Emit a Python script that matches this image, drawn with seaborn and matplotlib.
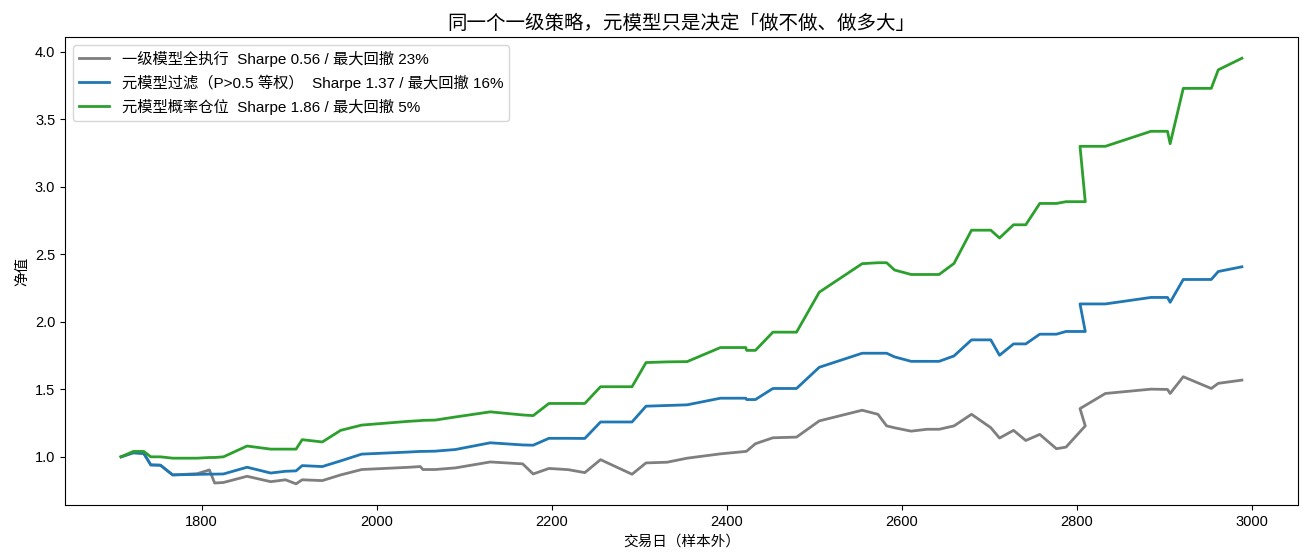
import matplotlib
matplotlib.use("Agg")
import matplotlib.pyplot as plt
import seaborn as sns
import pandas as pd

plt.rcParams['font.family'] = ['Liberation Sans', 'Noto Sans CJK SC', 'DejaVu Sans']
plt.rcParams['axes.unicode_minus'] = False
plt.rcParams['font.size'] = 10.5

# trade days (out of sample), in drawing order
days = [1708, 1722, 1734, 1742, 1753, 1767, 1795, 1809, 1815, 1825,
        1852, 1879, 1896, 1908, 1915, 1938, 1959, 1983, 2035, 2050,
        2053, 2067, 2090, 2130, 2167, 2179, 2197, 2219, 2238, 2256,
        2292, 2308, 2332, 2355, 2393, 2422, 2423, 2433, 2453, 2480,
        2506, 2555, 2573, 2583, 2592, 2611, 2629, 2643, 2660, 2680,
        2702, 2712, 2728, 2742, 2758, 2777, 2788, 2810, 2804, 2833,
        2885, 2904, 2907, 2922, 2954, 2962, 2989]

nav_all = [1.00, 1.03, 1.025, 0.94, 0.938, 0.866, 0.875, 0.903, 0.806, 0.81,
           0.856, 0.816, 0.83, 0.80, 0.83, 0.824, 0.866, 0.906, 0.922, 0.928,
           0.906, 0.906, 0.918, 0.962, 0.948, 0.873, 0.914, 0.905, 0.883, 0.979,
           0.871, 0.955, 0.96, 0.99, 1.022, 1.04, 1.042, 1.097, 1.141, 1.146,
           1.266, 1.345, 1.315, 1.229, 1.215, 1.19, 1.204, 1.204, 1.229, 1.315,
           1.216, 1.139, 1.196, 1.121, 1.166, 1.06, 1.072, 1.229, 1.357, 1.469,
           1.501, 1.499, 1.469, 1.593, 1.506, 1.544, 1.568]

nav_filter = [1.00, 1.03, 1.025, 0.94, 0.938, 0.866, 0.87, 0.872, 0.872, 0.873,
              0.923, 0.88, 0.893, 0.896, 0.935, 0.928, 0.97, 1.02, 1.035, 1.04,
              1.04, 1.042, 1.054, 1.104, 1.088, 1.086, 1.137, 1.137, 1.136, 1.258,
              1.258, 1.375, 1.38, 1.385, 1.434, 1.434, 1.424, 1.424, 1.506, 1.506,
              1.663, 1.767, 1.767, 1.767, 1.74, 1.707, 1.707, 1.707, 1.747, 1.866,
              1.866, 1.752, 1.836, 1.836, 1.908, 1.908, 1.928, 1.928, 2.132, 2.132,
              2.18, 2.18, 2.144, 2.313, 2.313, 2.372, 2.407]

nav_prob = [1.00, 1.04, 1.04, 1.00, 1.00, 0.99, 0.99, 0.995, 0.995, 1.00,
            1.08, 1.057, 1.057, 1.057, 1.127, 1.11, 1.196, 1.235, 1.262, 1.268,
            1.27, 1.272, 1.295, 1.333, 1.31, 1.305, 1.395, 1.395, 1.395, 1.519,
            1.519, 1.698, 1.703, 1.705, 1.809, 1.809, 1.788, 1.788, 1.923, 1.923,
            2.219, 2.43, 2.437, 2.437, 2.383, 2.35, 2.35, 2.35, 2.432, 2.678,
            2.678, 2.62, 2.718, 2.718, 2.876, 2.876, 2.889, 2.889, 3.299, 3.299,
            3.41, 3.41, 3.318, 3.728, 3.728, 3.865, 3.951]

labels = ['一级模型全执行  Sharpe 0.56 / 最大回撤 23%',
          '元模型过滤（P>0.5 等权）  Sharpe 1.37 / 最大回撤 16%',
          '元模型概率仓位  Sharpe 1.86 / 最大回撤 5%']
colors = ['#7f7f7f', '#1f77b4', '#2ca02c']

fig = plt.figure(figsize=(13.08, 5.6), dpi=100)
ax = fig.add_axes([0.0497, 0.098, 0.9426, 0.836])

for nav, lab, col in zip([nav_all, nav_filter, nav_prob], labels, colors):
    df = pd.DataFrame({'day': days, 'nav': nav})
    sns.lineplot(data=df, x='day', y='nav', sort=False, estimator=None,
                 color=col, linewidth=2, label=lab, ax=ax)

ax.set_title('同一个一级策略，元模型只是决定「做不做、做多大」', fontsize=14)
ax.set_xlabel('交易日（样本外）')
ax.set_ylabel('净值')
ax.legend(loc='upper left', fontsize=11)

fig.savefig('out.png', dpi=100)
